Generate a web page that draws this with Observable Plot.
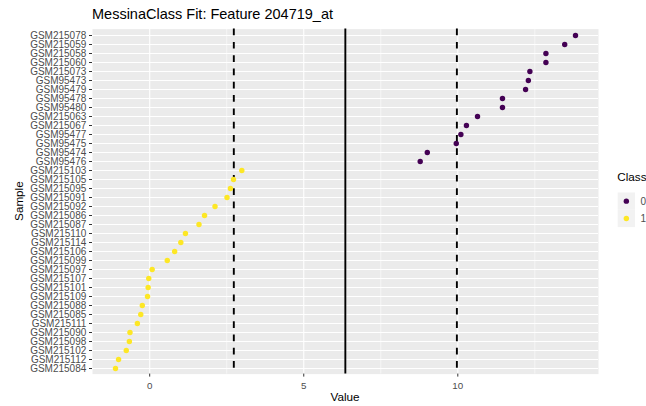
<!DOCTYPE html>
<html>
<head>
<meta charset="utf-8">
<script src="https://cdn.jsdelivr.net/npm/d3@7"></script>
<script src="https://cdn.jsdelivr.net/npm/@observablehq/plot@0.6"></script>
<style>
  html, body { margin: 0; padding: 0; background: #ffffff; }
  #chart { width: 646px; height: 406px; }
  svg { font-family: "Liberation Sans", Arial, sans-serif; }
</style>
</head>
<body>
<div id="chart"></div>
<script>
// ---- Data ----
const titleText = "MessinaClass Fit: Feature 204719_at";
const xLabel = "Value";
const yLabel = "Sample";
const legendTitle = "Class";

// Samples, top to bottom
const samples = [
  "GSM215078","GSM215059","GSM215058","GSM215060","GSM215073",
  "GSM95473","GSM95479","GSM95478","GSM95480","GSM215063",
  "GSM215067","GSM95477","GSM95475","GSM95474","GSM95476",
  "GSM215103","GSM215105","GSM215095","GSM215091","GSM215092",
  "GSM215086","GSM215087","GSM215110","GSM215114","GSM215106",
  "GSM215099","GSM215097","GSM215107","GSM215101","GSM215109",
  "GSM215088","GSM215085","GSM215111","GSM215090","GSM215098",
  "GSM215102","GSM215112","GSM215084"
];
const values = [
  13.82, 13.47, 12.86, 12.86, 12.34,
  12.29, 12.20, 11.45, 11.45, 10.64,
  10.28, 10.10, 9.95, 9.01, 8.78,
  2.99, 2.72, 2.62, 2.51, 2.12,
  1.78, 1.60, 1.16, 1.01, 0.81,
  0.57, 0.08, -0.03, -0.05, -0.07,
  -0.24, -0.29, -0.40, -0.64, -0.66,
  -0.76, -1.01, -1.11
];
const classes = [
  "0","0","0","0","0","0","0","0","0","0","0","0","0","0","0",
  "1","1","1","1","1","1","1","1","1","1","1","1","1","1","1","1","1","1","1","1","1","1","1"
];
const classLevels = ["0", "1"];
const classColors = ["#440154", "#FDE725"];

const threshold = [6.35];
const margins = [2.73, 9.97];
const majorTicks = [0, 5, 10];
const minorTicks = [2.5, 7.5, 12.5];

// ---- Build table ----
const data = samples.map((s, i) => ({sample: s, value: values[i], cls: classes[i]}));

const xmin = d3.min(values), xmax = d3.max(values);
const pad = (xmax - xmin) * 0.05;

const W = 646, H = 406;
const mL = 92, mR = 48, mT = 28.6, mB = 32.4;

const chart = Plot.plot({
  width: W,
  height: H,
  marginLeft: mL,
  marginRight: mR,
  marginTop: mT,
  marginBottom: mB,
  style: {fontFamily: "'Liberation Sans', Arial, sans-serif", background: "#ffffff", overflow: "visible"},
  x: {domain: [xmin - pad, xmax + pad], label: null},
  y: {domain: samples, padding: 0.6, label: null},
  color: {domain: classLevels, range: classColors},
  marks: [
    Plot.frame({fill: "#EBEBEB", stroke: null}),
    Plot.gridX({ticks: minorTicks, stroke: "#ffffff", strokeOpacity: 1, strokeWidth: 0.55}),
    Plot.gridX({ticks: majorTicks, stroke: "#ffffff", strokeOpacity: 1, strokeWidth: 1.1}),
    Plot.gridY({stroke: "#ffffff", strokeOpacity: 1, strokeWidth: 1.1}),
    Plot.ruleX(margins, {x: d => d, stroke: "#000000", strokeWidth: 1.9, strokeDasharray: "6.7,6.6"}),
    Plot.ruleX(threshold, {x: d => d, stroke: "#000000", strokeWidth: 1.9}),
    Plot.dot(data, {x: "value", y: "sample", fill: "cls", r: 2.7, stroke: null}),
    Plot.axisX({ticks: majorTicks, tickSize: 3, tickPadding: 4.5, fontSize: 9.8, stroke: "#333333", fill: "#4D4D4D", label: null}),
    Plot.axisY({tickSize: 3, tickPadding: 3.2, fontSize: 10, stroke: "#333333", fill: "#4D4D4D", label: null})
  ]
});

document.getElementById("chart").appendChild(chart);

// ---- Titles and legend (real SVG text) ----
const svg = d3.select(chart);
const font = "'Liberation Sans', Arial, sans-serif";

svg.append("text")
  .attr("x", mL).attr("y", 18.5)
  .attr("text-anchor", "start")
  .attr("font-family", font).attr("font-size", 14.5).attr("fill", "#000000")
  .text(titleText);

svg.append("text")
  .attr("x", (mL + (W - mR)) / 2).attr("y", 401)
  .attr("text-anchor", "middle")
  .attr("font-family", font).attr("font-size", 11.7).attr("fill", "#000000")
  .text(xLabel);

const yMid = (mT + (H - mB)) / 2;
svg.append("text")
  .attr("transform", `translate(22.5,${yMid}) rotate(-90)`)
  .attr("text-anchor", "middle")
  .attr("font-family", font).attr("font-size", 11.7).attr("fill", "#000000")
  .text(yLabel);

const colorScale = chart.scale("color");
const lg = svg.append("g");
lg.append("text")
  .attr("x", 617.3).attr("y", 181)
  .attr("text-anchor", "start")
  .attr("font-family", font).attr("font-size", 11.7).attr("fill", "#000000")
  .text(legendTitle);
const keySize = 17.3, keyX = 617.7, keyY0 = 192.5;
colorScale.domain.forEach((lev, i) => {
  const y = keyY0 + i * keySize;
  lg.append("rect").attr("x", keyX).attr("y", y).attr("width", keySize).attr("height", keySize).attr("fill", "#F2F2F2");
  lg.append("circle").attr("cx", keyX + keySize / 2).attr("cy", y + keySize / 2).attr("r", 2.7).attr("fill", colorScale.apply(lev));
  lg.append("text")
    .attr("x", keyX + keySize + 5.5).attr("y", y + keySize / 2 + 3.4)
    .attr("text-anchor", "start")
    .attr("font-family", font).attr("font-size", 10).attr("fill", "#4D4D4D")
    .text(lev);
});
</script>
</body>
</html>
